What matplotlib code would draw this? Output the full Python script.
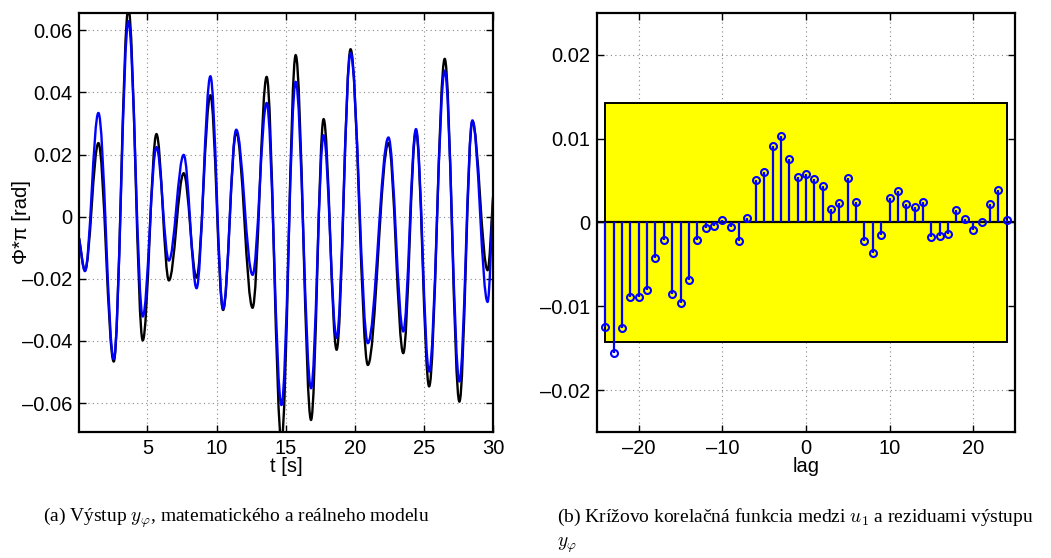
import matplotlib.pyplot as plt
from matplotlib.path import Path
from matplotlib.patches import PathPatch, Rectangle

plt.rcParams['font.family'] = ['Liberation Sans', 'DejaVu Sans']
plt.rcParams['mathtext.fontset'] = 'cm'

# (a) extremes of the two output curves
t_ext = [0.05, 0.48, 1.45, 2.56, 3.62, 4.66, 5.65, 6.55, 7.62, 8.55, 9.55,
         10.47, 11.42, 12.6, 13.62, 14.69, 15.72, 16.83, 17.74, 18.68, 19.69,
         20.94, 22.43, 23.5, 24.42, 25.37, 26.5, 27.56, 28.5, 29.6, 30.0]
y_real = [-0.0069, -0.0172, 0.0237, -0.0466, 0.067, -0.0398, 0.0266, -0.0205,
          0.014, -0.0196, 0.0391, -0.0300, 0.0272, -0.0293, 0.0450, -0.0720,
          0.0520, -0.0654, 0.0314, -0.0428, 0.0539, -0.0477, 0.0237, -0.0439,
          0.0275, -0.0546, 0.0508, -0.0595, 0.0307, -0.0172, 0.0064]
y_model = [-0.0069, -0.0175, 0.0334, -0.0458, 0.0629, -0.0321, 0.0224, -0.0141,
           0.0199, -0.0230, 0.0452, -0.0296, 0.0280, -0.0187, 0.0366, -0.0606,
           0.0434, -0.0552, 0.0262, -0.0390, 0.0527, -0.0407, 0.0255, -0.0369,
           0.0282, -0.0498, 0.0470, -0.0530, 0.0310, -0.0274, 0.0064]

yticks_a = [-0.06, -0.04, -0.02, 0, 0.02, 0.04, 0.06]
ylabels_a = ['–0.06', '–0.04', '–0.02', '0', '0.02', '0.04', '0.06']
xticks_a = [5, 10, 15, 20, 25, 30]

# (b) cross correlation
lags = list(range(-24, 25))
xcorr = [-0.01244, -0.01552, -0.01256, -0.00892, -0.00892, -0.0080, -0.00428,
         -0.00212, -0.00856, -0.0096, -0.00688, -0.00204, -0.00068, -0.00048,
         0.00024, -0.00056, -0.00216, 0.00056, 0.00512, 0.00604, 0.00916,
         0.01036, 0.00752, 0.00548, 0.00576, 0.00516, 0.00436, 0.00156,
         0.00232, 0.00528, 0.0024, -0.00216, -0.00364, -0.00144, 0.00296,
         0.0038, 0.0022, 0.00184, 0.00244, -0.00176, -0.00156, -0.00136,
         0.00152, 0.00044, -0.00092, 0.00008, 0.00216, 0.00392, 0.00028]
conf = 0.0143

yticks_b = [-0.02, -0.01, 0, 0.01, 0.02]
ylabels_b = ['–0.02', '–0.01', '0', '0.01', '0.02']
xticks_b = [-20, -10, 0, 10, 20]
xlabels_b = ['–20', '–10', '0', '10', '20']


def smooth(t, y, k=0.36):
    # cubic segments between the read extremes, flat at each extreme
    verts = [(t[0], y[0])]
    codes = [Path.MOVETO]
    n = len(t)
    for i in range(n - 1):
        d = t[i + 1] - t[i]
        dy = y[i + 1] - y[i]
        if i == 0:
            c1 = (t[i] + d / 3, y[i] + dy / 3)
        else:
            c1 = (t[i] + k * d, y[i])
        if i + 1 == n - 1:
            c2 = (t[i + 1] - d / 3, y[i + 1] - dy / 3)
        else:
            c2 = (t[i + 1] - k * d, y[i + 1])
        verts += [c1, c2, (t[i + 1], y[i + 1])]
        codes += [Path.CURVE4] * 3
    return Path(verts, codes)


def style(ax):
    ax.grid(True, linestyle=(0, (1, 3)), color='#888888', linewidth=0.8)
    ax.tick_params(direction='in', top=True, right=True, length=5,
                   width=1, labelsize=14.5, pad=5)
    for s in ax.spines.values():
        s.set_linewidth(1.6)
    ax.set_axisbelow(True)


fig = plt.figure(figsize=(10.51, 5.58), dpi=100)

ax1 = fig.add_axes([0.0752, 0.2258, 0.394, 0.751])
ax1.add_patch(PathPatch(smooth(t_ext, y_real), fill=False, edgecolor='black', lw=1.7))
ax1.add_patch(PathPatch(smooth(t_ext, y_model), fill=False, edgecolor='blue', lw=1.7))
ax1.set_xlim(0.05, 30)
ax1.set_ylim(-0.0693, 0.0656)
ax1.set_xticks(xticks_a)
ax1.set_yticks(yticks_a)
ax1.set_yticklabels(ylabels_a)
ax1.set_xlabel('t [s]', fontsize=14.5, labelpad=-1)
ax1.set_ylabel('Φ*π [rad]', fontsize=14.5)
ax1.yaxis.set_label_coords(-0.115, 0.5)
style(ax1)

ax2 = fig.add_axes([0.568, 0.2258, 0.3977, 0.751])
ax2.add_patch(Rectangle((lags[0], -conf), lags[-1] - lags[0], 2 * conf,
                        facecolor='#ffff00', edgecolor='black', lw=1.4, zorder=1))
ax2.axhline(0, color='black', lw=1.6, zorder=2)
ax2.vlines(lags, 0, xcorr, colors='blue', lw=1.6, zorder=3)
ax2.plot(lags, xcorr, 'o', color='blue', mfc='none', ms=5, mew=1.5, zorder=4)
ax2.set_xlim(-25, 25)
ax2.set_ylim(-0.025, 0.025)
ax2.set_xticks(xticks_b)
ax2.set_xticklabels(xlabels_b)
ax2.set_yticks(yticks_b)
ax2.set_yticklabels(ylabels_b)
ax2.set_xlabel('lag', fontsize=14.5, labelpad=-1)
style(ax2)

cap = dict(fontsize=14, family='Liberation Serif', va='center', ha='left')
fig.text(0.041, 0.072, r'(a) Výstup $y_{\varphi}$, matematického a reálneho modelu', **cap)
fig.text(0.530, 0.072, r'(b) Krížovo korelačná funkcia medzi $u_1$ a reziduami výstupu', **cap)
fig.text(0.530, 0.022, r'$y_{\varphi}$', **cap)

fig.savefig('out.png', dpi=100)
